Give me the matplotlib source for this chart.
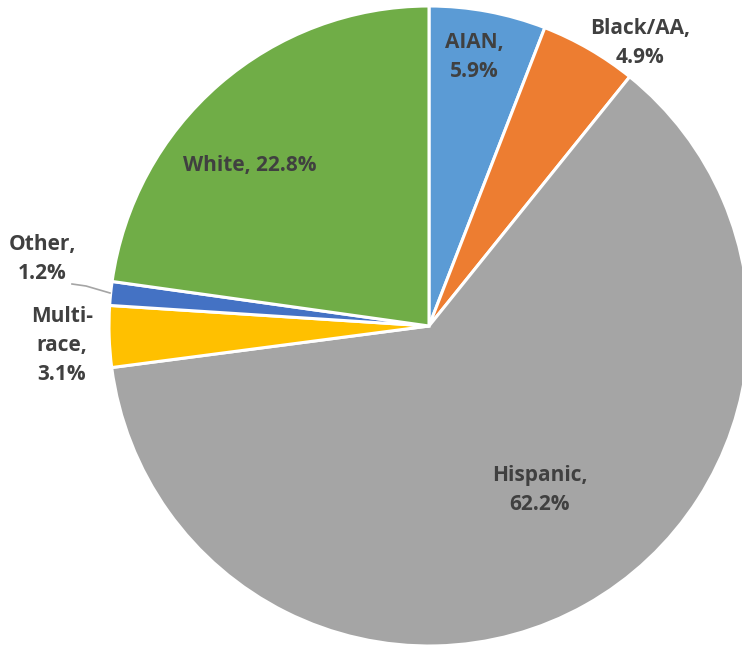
import matplotlib.pyplot as plt

# data
groups = ["AIAN", "Black/AA", "Hispanic", "Multi-race", "Other", "White"]
shares = [5.9, 4.9, 62.2, 3.1, 1.2, 22.8]
colors = ["#5B9BD5", "#ED7D31", "#A5A5A5", "#FFC000", "#4472C4", "#70AD47"]
label_text = ["AIAN,\n5.9%", "Black/AA,\n4.9%", "Hispanic,\n62.2%",
              "Multi-\nrace,\n3.1%", "Other,\n1.2%", "White, 22.8%"]

W, H = 742, 646
fig = plt.figure(figsize=(W / 100, H / 100), dpi=100)
ax = fig.add_axes([0, 0, 1, 1])

cx, cy, R = 429, H - 326, 320
ax.pie(shares, colors=colors, startangle=90, counterclock=False,
       center=(cx, cy), radius=R, frame=True,
       wedgeprops=dict(edgecolor="white", linewidth=2.2))
ax.set_xlim(0, W)
ax.set_ylim(0, H)
ax.set_aspect("equal")
ax.axis("off")

# label placement in pixels (x, y from top)
label_pos = [(474, 57), (640, 43), (540, 490), (62, 345), (42, 259), (250, 165)]
for txt, (x, y) in zip(label_text, label_pos):
    ax.text(x, H - y, txt, ha="center", va="center", fontsize=15,
            fontweight="bold", color="#404040", family="Open Sans",
            linespacing=1.5)

# leader line for Other
ax.plot([72, 86, 110], [H - 284, H - 286, H - 293], color="#A5A5A5", lw=1.2)

fig.savefig("out.png", dpi=100)
